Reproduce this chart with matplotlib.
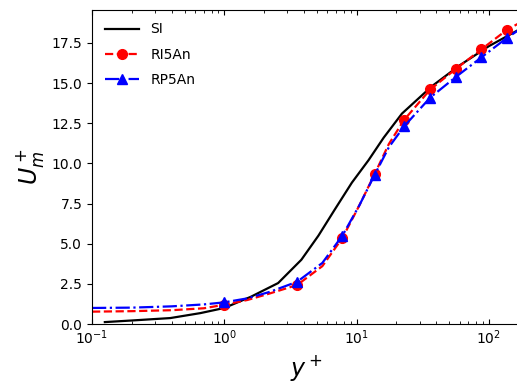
import numpy as np
import matplotlib.pyplot as plt

# SI (solid black)
yp_si = [0.125, 0.2, 0.39, 0.66, 1.0, 1.59, 2.55, 3.82, 5.14, 6.8, 9.2, 12.3, 16, 22, 37, 60, 100, 175]
u_si = [0.12, 0.22, 0.37, 0.68, 1.0, 1.7, 2.55, 4.0, 5.5, 7.1, 8.8, 10.2, 11.6, 13.1, 14.8, 16.1, 17.3, 18.4]

# RI5An / RP5An
yp = [0.1, 0.2, 0.4, 0.7, 1.0, 1.5, 2.2, 3.55, 5.5, 7.8, 10.5, 13.7, 17.5, 22.8, 36, 56.6, 87.7, 136, 175]
u_ri = [0.77, 0.8, 0.86, 0.98, 1.2, 1.5, 1.9, 2.43, 3.6, 5.35, 7.4, 9.35, 11.2, 12.7, 14.6, 15.9, 17.1, 18.3, 18.8]
u_rp = [1.0, 1.02, 1.1, 1.22, 1.35, 1.6, 2.0, 2.63, 3.8, 5.5, 7.4, 9.3, 11.0, 12.3, 14.1, 15.4, 16.6, 17.8, 18.4]
mark_idx = [4, 7, 9, 11, 13, 14, 15, 16, 17]

fig = plt.figure(figsize=(5.17, 3.83), dpi=100)
ax = fig.add_axes([0.178, 0.154, 0.83, 0.82])

ax.plot(yp_si, u_si, color='black', lw=1.6, label='SI')
ax.plot(yp, u_ri, color='red', ls='--', lw=1.6, marker='o', ms=7, markevery=mark_idx, label='RI5An')
ax.plot(yp, u_rp, color='blue', ls='-.', lw=1.6, marker='^', ms=7, markevery=mark_idx, label='RP5An')

ax.set_xscale('log')
ax.set_xlim(0.1, 175)
ax.set_ylim(0, 19.55)
ax.set_yticks([0, 2.5, 5, 7.5, 10, 12.5, 15, 17.5])
ax.set_yticklabels(['0.0', '2.5', '5.0', '7.5', '10.0', '12.5', '15.0', '17.5'])

ax.tick_params(axis='x', which='both', direction='in', top=True, labelsize=10)
ax.tick_params(axis='y', which='both', direction='out', labelsize=10)
ax.spines['right'].set_visible(False)

ax.set_xlabel('$y^+$', fontsize=17)
ax.set_ylabel('$U_m^+$', fontsize=17)

ax.legend(loc='upper left', frameon=False, fontsize=10, handlelength=2.5, labelspacing=0.8)

fig.savefig('out.png', dpi=100)
